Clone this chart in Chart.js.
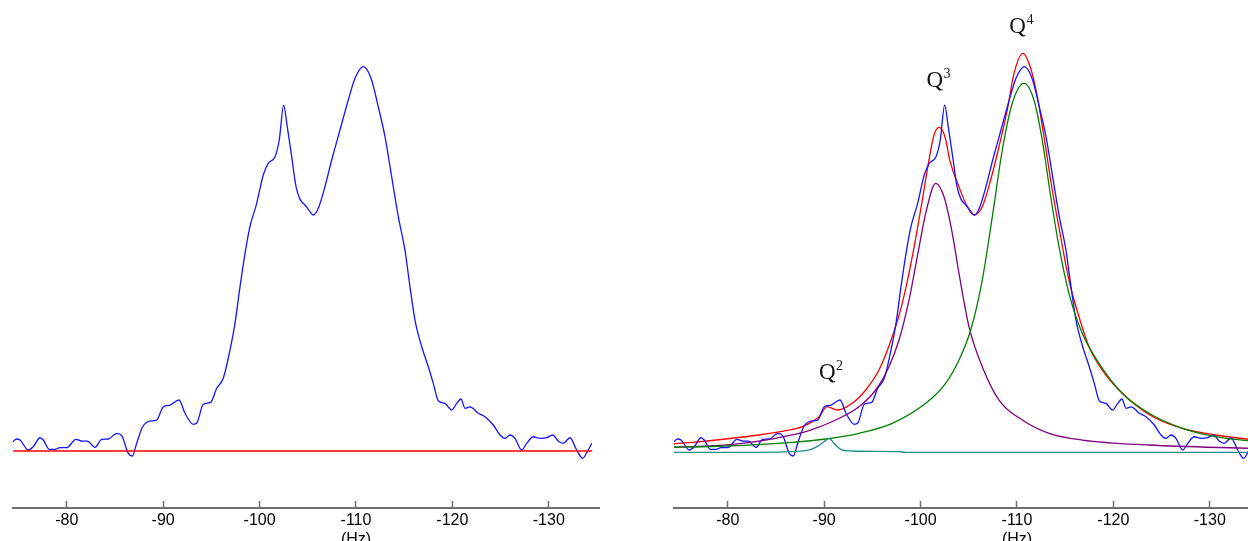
<!DOCTYPE html>
<html>
<head>
<meta charset="utf-8">
<script src="https://cdn.jsdelivr.net/npm/chart.js@4.4.1/dist/chart.umd.min.js"></script>
<style>
  html, body { margin: 0; padding: 0; background: #ffffff; }
  body { width: 1248px; height: 541px; overflow: hidden; position: relative; }
  canvas { position: absolute; top: 0; }
  #raw { left: 0; }
  #fit { left: 661px; }
</style>
</head>
<body>
<canvas id="raw" width="620" height="541"></canvas>
<canvas id="fit" width="620" height="541"></canvas>
<script>
// Measured 29Si spectrum: shift (Hz) and intensity (arb. units)
const shiftHz = [
  -74.39, -74.80, -75.15, -76.01, -76.52, -77.22, -77.56, -78.18, -78.78, -79.29,
  -79.99, -80.95, -81.55, -82.13, -82.93, -83.62, -84.31, -85.18, -85.70, -86.38,
  -86.79, -87.25, -87.87, -88.63, -89.33, -90.01, -90.71, -91.64, -92.26, -93.12,
  -93.47, -94.16, -94.93, -95.55, -96.23, -96.93, -97.45, -97.97, -98.49, -99.00,
  -99.70, -100.38, -100.90, -101.60, -102.04, -102.50, -102.87, -103.33, -103.78, -104.19,
  -104.71, -105.23, -105.57, -106.09, -106.78, -107.48, -108.34, -109.20, -109.90, -110.76,
  -111.56, -112.31, -113.01, -113.70, -114.39, -115.08, -115.60, -116.12, -116.82, -117.50,
  -118.02, -118.54, -119.23, -119.93, -120.45, -120.89, -121.31, -121.83, -122.24, -122.69,
  -123.38, -124.24, -124.94, -125.46, -125.98, -126.49, -127.19, -127.71, -128.39, -129.09,
  -129.78, -130.40, -130.98, -131.50, -132.20, -132.89, -133.52, -133.99, -134.45
];
const intensity = [
  2.42, 3.13, 2.86, 0.26, 1.12, 3.46, 2.86, 0.44, 0.44, 0.86,
  0.86, 3.05, 2.60, 2.60, 0.96, 3.05, 3.13, 4.61, 3.98, -0.60,
  -1.30, 2.00, 6.33, 7.81, 8.07, 11.54, 11.98, 13.28, 9.82, 6.95,
  7.21, 12.16, 12.68, 16.33, 18.93, 26.30, 33.26, 42.79, 51.48, 58.41,
  64.51, 71.88, 74.92, 76.64, 80.99, 90.10, 84.45, 76.64, 68.83, 65.60,
  64.06, 62.32, 61.46, 63.20, 68.83, 75.78, 83.59, 91.41, 97.06, 100.08,
  97.06, 89.66, 81.85, 71.43, 61.02, 52.34, 42.79, 34.11, 27.16, 21.95,
  17.63, 13.10, 12.42, 10.68, 12.42, 13.54, 11.12, 11.50, 10.90, 9.82,
  8.93, 6.77, 4.17, 3.31, 4.17, 3.31, 0.26, 2.00, 3.72, 3.31,
  3.46, 4.17, 2.60, 2.00, 3.46, 0.26, -1.90, -0.18, 2.00
];

// Zero baseline under the raw spectrum
const baselineHz = [-74.44, -134.50];
const baselineInt = [0, 0];

// Total fitted envelope
const fitHz = [
  -74.08, -76.32, -79.78, -83.24, -86.01, -87.73, -89.46, -90.32, -91.36, -92.91,
  -94.31, -95.68, -97.06, -98.10, -99.14, -100.18, -100.87, -101.39, -101.91, -102.53,
  -103.05, -103.98, -104.84, -105.54, -106.40, -107.27, -108.13, -108.99, -109.69, -110.62,
  -111.42, -112.11, -112.80, -113.66, -114.53, -115.39, -116.43, -117.47, -118.85, -120.58,
  -122.31, -124.39, -127.15, -130.61, -133.86, -134.50
];
const fitInt = [
  1.82, 2.27, 3.13, 4.17, 5.29, 6.33, 8.93, 11.54, 10.68, 12.42,
  15.89, 21.09, 29.77, 38.46, 50.60, 65.36, 75.78, 82.29, 84.30, 81.85,
  75.50, 68.83, 63.62, 61.46, 63.62, 70.57, 79.24, 88.80, 98.36, 103.57,
  99.66, 92.27, 81.85, 67.97, 55.81, 44.53, 34.97, 27.16, 21.09, 15.89,
  11.98, 8.52, 5.91, 4.17, 3.13, 3.00
];

// Q3 component
const q3Hz = [
  -74.08, -78.05, -81.50, -84.97, -88.42, -91.19, -93.61, -95.34, -96.72, -97.76,
  -98.80, -99.66, -100.53, -101.57, -102.43, -103.29, -103.98, -105.02, -106.40, -108.13,
  -110.55, -113.32, -116.77, -123.69, -134.50
];
const q3Int = [
  0.96, 1.30, 2.00, 3.31, 5.29, 8.07, 11.54, 15.89, 21.95, 28.91,
  39.32, 50.60, 61.90, 69.70, 66.20, 56.70, 46.30, 32.40, 21.95, 13.28,
  8.07, 4.61, 2.86, 1.56, 0.65
];

// Q4 component
const q4Hz = [
  -74.08, -79.78, -86.69, -90.16, -93.61, -97.06, -100.53, -102.60, -103.98, -105.20,
  -106.40, -107.44, -108.48, -109.51, -110.73, -111.76, -112.62, -113.50, -114.36, -115.39,
  -116.77, -118.51, -120.92, -123.69, -127.15, -130.61, -133.86, -134.50
];
const q4Int = [
  0.96, 1.30, 2.27, 3.13, 4.61, 7.21, 12.42, 17.63, 23.70, 31.51,
  44.53, 61.02, 78.39, 90.55, 95.76, 91.41, 80.99, 66.23, 53.20, 41.07,
  30.65, 22.84, 15.03, 9.82, 5.91, 3.72, 2.68, 2.60
];

// Q2 component
const q2Hz = [-74.08, -82.89, -88.08, -89.12, -89.98, -90.50, -91.02, -91.71, -92.91, -97.76, -98.45, -134.50];
const q2Int = [-0.34, -0.34, 0.08, 0.96, 2.42, 3.31, 2.00, 0.44, 0.00, -0.18, -0.34, -0.34];

// Axis ticks and ranges
const tickValues = [-80, -90, -100, -110, -120, -130];
const xRange = [-135.21, -74.42];
const yRange = [-14.84, 117.45];
const unitText = '(Hz)';
const unitAt = -110;

// Peak annotations (shift, intensity level of the letter baseline)
const peakSup = ['2', '3', '4'];
const peakLabelHz = [-90.32, -101.47, -110.07];
const peakLabelLevel = [18.7, 94.7, 108.8];

const pts = (xs, ys) => xs.map((x, i) => ({ x: x, y: ys[i] }));

const line = (xs, ys, color) => ({
  data: pts(xs, ys),
  borderColor: color,
  borderWidth: 1.3,
  pointRadius: 0,
  fill: false,
  cubicInterpolationMode: 'monotone'
});

const unitLabel = {
  id: 'unitLabel',
  afterDraw(chart) {
    const ctx = chart.ctx;
    const x = chart.scales.x.getPixelForValue(unitAt);
    ctx.save();
    ctx.font = '16px "Liberation Sans", Arial, sans-serif';
    ctx.fillStyle = '#000000';
    ctx.textAlign = 'center';
    ctx.textBaseline = 'top';
    ctx.fillText(unitText, x, chart.chartArea.bottom + 24);
    ctx.restore();
  }
};

const peakNames = {
  id: 'peakNames',
  afterDatasetsDraw(chart) {
    const ctx = chart.ctx;
    const xs = chart.scales.x, ys = chart.scales.y;
    ctx.save();
    ctx.fillStyle = '#141414';
    peakSup.forEach((s, i) => {
      const x = xs.getPixelForValue(peakLabelHz[i]);
      const y = ys.getPixelForValue(peakLabelLevel[i]);
      ctx.font = '23px "Liberation Serif", "Times New Roman", serif';
      ctx.textAlign = 'center';
      ctx.textBaseline = 'alphabetic';
      ctx.fillText('Q', x, y);
      const w = ctx.measureText('Q').width;
      ctx.font = '14px "Liberation Serif", "Times New Roman", serif';
      ctx.textAlign = 'left';
      ctx.fillText(s, x + w / 2 + 0.5, y - 9);
    });
    ctx.restore();
  }
};

function options() {
  return {
    responsive: false,
    animation: false,
    events: [],
    layout: { padding: { left: 13, right: 21, top: 0, bottom: 0 } },
    plugins: { legend: { display: false }, tooltip: { enabled: false } },
    scales: {
      x: {
        type: 'linear',
        reverse: true,
        min: xRange[0],
        max: xRange[1],
        border: { display: true, color: '#6f6f6f', width: 2 },
        grid: {
          display: true,
          drawOnChartArea: false,
          drawTicks: true,
          tickLength: -7,
          tickWidth: 1.5,
          tickColor: '#6f6f6f'
        },
        ticks: {
          padding: 10,
          color: '#000000',
          maxRotation: 0,
          font: { family: '"Liberation Sans", Arial, sans-serif', size: 16 },
          callback: v => String(v)
        },
        afterBuildTicks: s => { s.ticks = tickValues.map(v => ({ value: v })); },
        afterFit: s => { s.height = 33; }
      },
      y: {
        type: 'linear',
        display: false,
        min: yRange[0],
        max: yRange[1]
      }
    }
  };
}

new Chart(document.getElementById('raw'), {
  type: 'line',
  data: {
    datasets: [
      line(baselineHz, baselineInt, '#ff0000'),
      line(shiftHz, intensity, '#1414ff')
    ]
  },
  options: options(),
  plugins: [unitLabel]
});

new Chart(document.getElementById('fit'), {
  type: 'line',
  data: {
    datasets: [
      line(q2Hz, q2Int, '#1f8b8b'),
      line(q4Hz, q4Int, '#008000'),
      line(q3Hz, q3Int, '#800080'),
      line(shiftHz, intensity, '#1414ff'),
      line(fitHz, fitInt, '#ff0000')
    ]
  },
  options: options(),
  plugins: [unitLabel, peakNames]
});
</script>
</body>
</html>
